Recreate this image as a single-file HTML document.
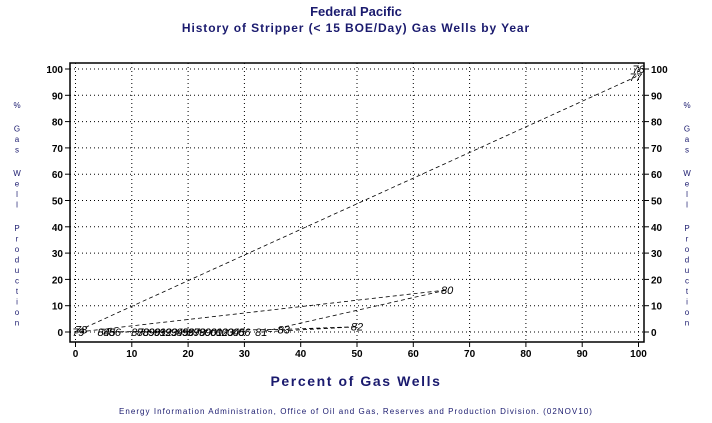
<!DOCTYPE html>
<html><head><meta charset="utf-8"><style>
body{margin:0;background:#fff;}
svg text{font-family:"Liberation Sans",sans-serif;}
</style></head><body>
<svg id="c" width="712" height="418" xmlns="http://www.w3.org/2000/svg">
<text x="356" y="16" text-anchor="middle" font-size="13" font-weight="bold" fill="#1a1a6e">Federal Pacific</text>
<text x="356" y="32" text-anchor="middle" font-size="12" font-weight="bold" letter-spacing="0.9" fill="#1a1a6e">History of Stripper (&lt; 15 BOE/Day) Gas Wells by Year</text>
<text x="356" y="386" text-anchor="middle" font-size="14" font-weight="bold" letter-spacing="1.6" fill="#1a1a6e">Percent of Gas Wells</text>
<text x="356" y="414" text-anchor="middle" font-size="8" letter-spacing="1.05" fill="#1a1a6e">Energy Information Administration, Office of Oil and Gas, Reserves and Production Division. (02NOV10)</text>
<g id="grid"></g><g id="axes"></g><g id="series"></g><g id="labels"></g>
</svg>
<script>
const years=["76","77","78","79","80","81","82","83","84","85","86","87","88","89","90","91","92","93","94","95","96","97","98","99","00","01","02","03","04","05","06"];
const pctWells=[100,99.5,1,0.5,66,33,50,37,5,6,7,11,12,13,14,15,16,17,18,19,20,21,22,23,24,25,26,27,28,29,30];
const pctProd=[100,97,1,0,16,0,2,1,0,0,0,0,0,0,0,0,0,0,0,0,0,0,0,0,0,0,0,0,0,0,0];
const ticks=[0,10,20,30,40,50,60,70,80,90,100];
const NS="http://www.w3.org/2000/svg";
const L=70,R=644,T=63,B=342;
const xs=v=>75.5+v*5.63, ys=v=>332-v*2.63;
function mk(p,t,a){const e=document.createElementNS(NS,t);for(const k in a)e.setAttribute(k,a[k]);document.getElementById(p).appendChild(e);return e;}
ticks.forEach(t=>{
 let g=mk('grid','line',{x1:xs(t),x2:xs(t),y1:T,y2:B,stroke:'#000','stroke-dasharray':'1,3','stroke-width':1});
 
 
 g=mk('grid','line',{x1:L,x2:R,y1:ys(t),y2:ys(t),stroke:'#000','stroke-dasharray':'1,3','stroke-width':1});
 
 
 mk('axes','line',{x1:xs(t),x2:xs(t),y1:B,y2:B+5,stroke:'#000'});
 mk('axes','line',{x1:L-5,x2:L,y1:ys(t),y2:ys(t),stroke:'#000'});
 mk('axes','line',{x1:R,x2:R+5,y1:ys(t),y2:ys(t),stroke:'#000'});
 let tx=mk('axes','text',{x:xs(t),y:B+15,'text-anchor':'middle','font-size':10,'font-weight':'bold'});tx.textContent=t;
 
 
 tx=mk('axes','text',{x:L-7,y:ys(t)+4,'text-anchor':'end','font-size':10,'font-weight':'bold'});tx.textContent=t;
 
 
 tx=mk('axes','text',{x:R+7,y:ys(t)+4,'text-anchor':'start','font-size':10,'font-weight':'bold'});tx.textContent=t;
 
 
});
const fr=mk('axes','rect',{x:L,y:T,width:R-L,height:B-T,fill:'none',stroke:'#000','stroke-width':1.5});


const word="% Gas Well Production";
[17,687].forEach((x,i)=>{let y=108;for(const ch of word){if(ch!==' '){const t=mk('axes','text',{x:x,y:y,'text-anchor':'middle','font-size':8,fill:'#1a1a6e'});t.textContent=ch;}y+=ch===' '?13:10.5;}});
let d='';pctWells.forEach((v,i)=>{d+=(i?'L':'M')+xs(v)+','+ys(pctProd[i]);});
const ln=mk('series','path',{d:d,fill:'none',stroke:'#000','stroke-dasharray':'4,3','stroke-width':0.8});


years.forEach((y,i)=>{const t=mk('labels','text',{x:xs(pctWells[i]),y:ys(pctProd[i])+4,'text-anchor':'middle','font-size':11,'font-style':'italic',fill:'#000'});t.textContent=y;
 
 });
</script>
</body></html>
